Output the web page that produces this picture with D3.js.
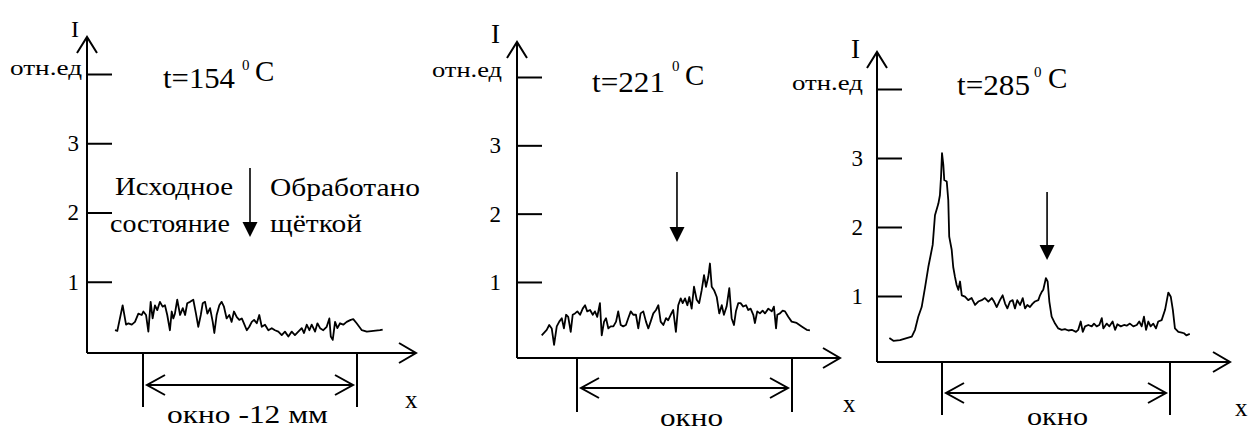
<!DOCTYPE html>
<html>
<head>
<meta charset="utf-8">
<script src="https://cdn.jsdelivr.net/npm/d3@7"></script>
<style>
body { margin: 0; background: #fff; }
</style>
</head>
<body>
<svg id="chart" width="1251" height="432" font-family="Liberation Serif, Tinos, Times New Roman, DejaVu Serif, serif"></svg>
<script>
// DATA
// positions in mm (0..12 = the window), intensity in rel. units
var temps = [154, 221, 285];
var windowLabels = ["окно -12 мм", "окно", "окно"];
var yTicks = [1, 2, 3, 4];
var windowRange = [0, 12];
var markerPos = [6.0, 5.58, 5.53];   // where the arrows point (mm)
var notesLeft = ["Исходное", "состояние"];
var notesRight = ["Обработано", "щёткой"];

var scan154 = [[-1.57,0.30],[-1.44,0.29],[-1.14,0.66],[-0.95,0.38],[-0.82,0.40],[-0.63,0.38],[-0.45,0.42],[-0.26,0.54],
  [-0.07,0.52],[0.02,0.57],[0.17,0.52],[0.30,0.28],[0.43,0.71],[0.54,0.47],[0.67,0.66],[0.80,0.59],[0.95,0.71],
  [1.10,0.64],[1.23,0.66],[1.36,0.52],[1.51,0.30],[1.61,0.57],[1.70,0.47],[1.79,0.54],[1.92,0.74],[2.08,0.52],
  [2.23,0.62],[2.36,0.52],[2.48,0.69],[2.64,0.71],[2.82,0.74],[2.97,0.54],[3.10,0.35],[3.24,0.52],[3.35,0.69],
  [3.48,0.71],[3.61,0.54],[3.76,0.62],[3.91,0.42],[4.00,0.26],[4.13,0.52],[4.28,0.66],[4.41,0.71],[4.54,0.64],
  [4.69,0.47],[4.84,0.52],[4.97,0.42],[5.10,0.57],[5.26,0.49],[5.40,0.45],[5.54,0.47],[5.66,0.40],[5.82,0.30],
  [5.96,0.35],[6.10,0.42],[6.23,0.45],[6.38,0.40],[6.52,0.52],[6.66,0.35],[6.84,0.38],[7.03,0.30],[7.22,0.33],
  [7.40,0.30],[7.59,0.28],[7.78,0.23],[7.96,0.28],[8.15,0.21],[8.34,0.28],[8.52,0.23],[8.71,0.28],[8.90,0.33],
  [9.03,0.26],[9.18,0.38],[9.33,0.30],[9.46,0.38],[9.65,0.28],[9.78,0.40],[9.93,0.33],[10.11,0.30],[10.30,0.35],
  [10.45,0.47],[10.53,0.21],[10.64,0.16],[10.77,0.42],[10.90,0.33],[11.05,0.40],[11.23,0.38],[11.42,0.42],
  [11.65,0.45],[11.79,0.46],[11.98,0.40],[12.27,0.30],[12.55,0.28],[12.92,0.29],[13.29,0.30],[13.44,0.31]];

var scan221 = [[-1.97,0.22],[-1.69,0.30],[-1.55,0.37],[-1.41,0.32],[-1.28,0.08],[-1.13,0.35],[-0.99,0.42],[-0.85,0.47],
  [-0.73,0.32],[-0.61,0.52],[-0.49,0.49],[-0.35,0.27],[-0.24,0.52],[-0.11,0.54],[0.02,0.57],[0.17,0.52],[0.32,0.61],
  [0.45,0.66],[0.57,0.57],[0.73,0.59],[0.88,0.52],[1.00,0.57],[1.13,0.49],[1.28,0.69],[1.38,0.22],[1.51,0.42],
  [1.62,0.47],[1.75,0.32],[1.88,0.35],[2.03,0.35],[2.18,0.42],[2.30,0.57],[2.44,0.37],[2.58,0.35],[2.73,0.37],
  [2.86,0.47],[3.00,0.57],[3.14,0.52],[3.29,0.52],[3.42,0.32],[3.55,0.54],[3.70,0.57],[3.85,0.42],[3.98,0.32],
  [4.11,0.42],[4.26,0.54],[4.41,0.59],[4.54,0.66],[4.67,0.42],[4.82,0.37],[4.97,0.47],[5.09,0.44],[5.23,0.52],
  [5.37,0.59],[5.52,0.27],[5.65,0.66],[5.79,0.76],[5.90,0.69],[6.03,0.76],[6.16,0.66],[6.27,0.78],[6.40,0.61],
  [6.53,0.93],[6.68,0.74],[6.82,0.69],[6.96,0.88],[7.09,1.10],[7.20,0.93],[7.33,1.08],[7.42,1.27],[7.52,0.93],
  [7.65,0.88],[7.80,0.78],[7.94,0.54],[8.08,0.66],[8.20,0.52],[8.35,0.64],[8.50,0.91],[8.63,0.47],[8.76,0.37],
  [8.87,0.57],[9.00,0.69],[9.13,0.69],[9.28,0.64],[9.43,0.66],[9.56,0.59],[9.69,0.61],[9.84,0.52],[9.93,0.40],
  [10.06,0.57],[10.21,0.54],[10.36,0.58],[10.49,0.54],[10.68,0.61],[10.87,0.57],[10.99,0.64],[11.11,0.32],
  [11.18,0.52],[11.33,0.54],[11.48,0.58],[11.61,0.57],[11.79,0.49],[11.98,0.42],[12.26,0.40],[12.54,0.35],
  [12.82,0.30],[13.00,0.29]];

var scan285 = [[-2.77,0.39],[-2.56,0.35],[-2.21,0.36],[-1.86,0.39],[-1.59,0.41],[-1.42,0.51],[-1.25,0.70],[-1.07,0.84],
  [-0.89,1.13],[-0.72,1.42],[-0.49,1.74],[-0.37,2.17],[-0.19,2.34],[-0.11,2.46],[-0.05,2.73],[0.00,3.07],[0.07,2.90],
  [0.12,2.68],[0.25,2.66],[0.33,2.39],[0.38,1.86],[0.51,1.67],[0.59,1.42],[0.68,1.28],[0.77,1.16],[0.86,1.09],
  [0.95,1.21],[1.04,1.01],[1.21,0.99],[1.38,0.94],[1.56,0.97],[1.74,0.87],[1.91,0.92],[2.09,0.94],[2.26,0.97],
  [2.44,0.92],[2.62,0.97],[2.74,0.92],[2.88,0.84],[3.05,0.94],[3.19,1.01],[3.32,0.89],[3.44,0.82],[3.58,0.92],
  [3.72,0.94],[3.84,0.82],[3.96,0.94],[4.11,0.87],[4.25,0.97],[4.37,0.82],[4.49,0.87],[4.63,0.84],[4.77,0.89],
  [4.89,0.92],[5.07,0.94],[5.16,1.01],[5.25,1.06],[5.33,1.09],[5.47,1.26],[5.56,1.21],[5.65,0.92],[5.77,0.70],
  [5.95,0.60],[6.12,0.53],[6.30,0.51],[6.47,0.52],[6.65,0.50],[6.83,0.51],[7.05,0.48],[7.17,0.51],[7.30,0.63],
  [7.41,0.48],[7.53,0.56],[7.70,0.58],[7.88,0.56],[8.00,0.60],[8.14,0.56],[8.28,0.58],[8.41,0.68],[8.49,0.53],
  [8.67,0.60],[8.81,0.56],[8.98,0.63],[9.11,0.51],[9.23,0.59],[9.41,0.56],[9.58,0.58],[9.72,0.57],[9.89,0.60],
  [10.07,0.56],[10.25,0.58],[10.38,0.63],[10.51,0.56],[10.63,0.70],[10.74,0.51],[10.86,0.63],[10.98,0.56],
  [11.12,0.60],[11.26,0.53],[11.38,0.63],[11.56,0.65],[11.74,0.80],[11.91,1.05],[12.04,0.99],[12.15,0.80],
  [12.26,0.53],[12.44,0.48],[12.62,0.47],[12.74,0.46],[12.86,0.43],[13.04,0.45]];

var scans = [scan154, scan221, scan285];

// LAYOUT (pixels) for each of the three panels
var panels = [
  {ax: 87, top: 37, base: 353, tip: 416, y0: 351, y4: 74, xl: 143, xr: 357, wb: 407, wy: 385, pad: 8,
   iLab: [71, 37, 24], unit: [10, 75, 72], title: [163, 88, 72], deg: [242, 70], cLab: [255, 81],
   winText: [167, 423, 161], xLab: [405, 408], arr: [168, 237]},
  {ax: 517, top: 42, base: 358, tip: 840, y0: 350.3, y4: 77, xl: 577, xr: 792, wb: 412, wy: 388, pad: 16,
   iLab: [491, 43, 27], unit: [432, 77, 70], title: [592, 92, 73], deg: [672, 71], cLab: [685, 85],
   winText: [660, 426, 63], xLab: [843, 412], arr: [172, 242]},
  {ax: 877, top: 52, base: 362, tip: 1230, y0: 365, y4: 89, xl: 942, xr: 1170, wb: 415, wy: 393, pad: 14,
   iLab: [851, 58, 27], unit: [792, 90, 71], title: [957, 95, 73], deg: [1034, 77], cLab: [1048, 88],
   winText: [1027, 425, 61], xLab: [1235, 416], arr: [192, 260]}
];

var serifFace = "Liberation Serif, Tinos, Times New Roman, DejaVu Serif, serif";
var svg = d3.select("#chart");

// text helper; len stretches the text to the width seen in the scan
var label = function(g, txt, x, y, size, len) {
  var t = g.append("text")
    .attr("x", x)
    .attr("y", y)
    .attr("font-family", serifFace)
    .attr("font-size", size)
    .attr("fill", "#000")
    .text(txt);
  if (len) {
    t.attr("textLength", len).attr("lengthAdjust", "spacingAndGlyphs");
  }
  return t;
};

panels.forEach(function(p, i) {
  var g = svg.append("g");
  var x = d3.scaleLinear().domain(windowRange).range([p.xl, p.xr]);
  var y = d3.scaleLinear().domain([0, 4]).range([p.y0, p.y4]);

  // y axis with arrow
  g.append("path")
    .attr("d", "M" + p.ax + "," + p.base + "V" + p.top +
      "M" + (p.ax - 10) + "," + (p.top + 16) + "L" + p.ax + "," + p.top + "L" + (p.ax + 10) + "," + (p.top + 16))
    .attr("fill", "none").attr("stroke", "#000").attr("stroke-width", 2);
  // x axis with arrow
  g.append("path")
    .attr("d", "M" + p.ax + "," + p.base + "H" + p.tip +
      "M" + (p.tip - 17) + "," + (p.base - 10) + "L" + p.tip + "," + p.base + "L" + (p.tip - 17) + "," + (p.base + 10))
    .attr("fill", "none").attr("stroke", "#000").attr("stroke-width", 2);

  // ticks on the inside, labels outside
  var yAxis = d3.axisLeft(y)
    .tickValues(yTicks)
    .tickSizeInner(-25)
    .tickSizeOuter(0)
    .tickPadding(p.pad)
    .tickFormat(function(d) { return d === 4 ? "" : d; });
  var ya = g.append("g")
    .attr("transform", "translate(" + p.ax + ",0)")
    .call(yAxis)
    .attr("font-family", serifFace)
    .attr("font-size", 23);
  ya.select(".domain").remove();
  ya.selectAll("line").attr("stroke", "#000").attr("stroke-width", 2);
  ya.selectAll("text").attr("fill", "#000");

  label(g, "I", p.iLab[0], p.iLab[1], p.iLab[2]);
  label(g, "отн.ед", p.unit[0], p.unit[1], 21, p.unit[2]);

  // title t=...°C
  label(g, "t=" + temps[i], p.title[0], p.title[1], 29, p.title[2]);
  label(g, "0", p.deg[0], p.deg[1], 15);
  label(g, "C", p.cLab[0], p.cLab[1], 29);

  // scan curve
  var line = d3.line()
    .x(function(d) { return x(d[0]); })
    .y(function(d) { return y(d[1]); });
  g.append("path")
    .datum(scans[i])
    .attr("d", line)
    .attr("fill", "none")
    .attr("stroke", "#000")
    .attr("stroke-width", 1.8)
    .attr("stroke-linejoin", "round");

  // marker arrow
  var xm = x(markerPos[i]);
  g.append("line")
    .attr("x1", xm).attr("x2", xm)
    .attr("y1", p.arr[0]).attr("y2", p.arr[1] - 12)
    .attr("stroke", "#000").attr("stroke-width", 1.6);
  g.append("path")
    .attr("d", "M" + (xm - 7.5) + "," + (p.arr[1] - 15) + "L" + (xm + 7.5) + "," + (p.arr[1] - 15) +
      "L" + xm + "," + p.arr[1] + "Z")
    .attr("fill", "#000");

  // window brackets
  windowRange.forEach(function(w) {
    g.append("line")
      .attr("x1", x(w)).attr("x2", x(w))
      .attr("y1", p.base).attr("y2", p.wb)
      .attr("stroke", "#000").attr("stroke-width", 2);
  });
  var a0 = x(windowRange[0]) + 4, a1 = x(windowRange[1]) - 4;
  g.append("path")
    .attr("d", "M" + a0 + "," + p.wy + "H" + a1 +
      "M" + (a0 + 18) + "," + (p.wy - 10) + "L" + a0 + "," + p.wy + "L" + (a0 + 18) + "," + (p.wy + 10) +
      "M" + (a1 - 18) + "," + (p.wy - 10) + "L" + a1 + "," + p.wy + "L" + (a1 - 18) + "," + (p.wy + 10))
    .attr("fill", "none").attr("stroke", "#000").attr("stroke-width", 2);

  label(g, windowLabels[i], p.winText[0], p.winText[1], 25, p.winText[2]);
  label(g, "x", p.xLab[0], p.xLab[1], 25);

  // side notes only on the first panel
  if (i === 0) {
    label(g, notesLeft[0], 115, 195, 25, 118);
    label(g, notesLeft[1], 110, 232, 25, 120);
    label(g, notesRight[0], 270, 196, 25, 150);
    label(g, notesRight[1], 270, 232, 25, 92);
  }
});
</script>
</body>
</html>
